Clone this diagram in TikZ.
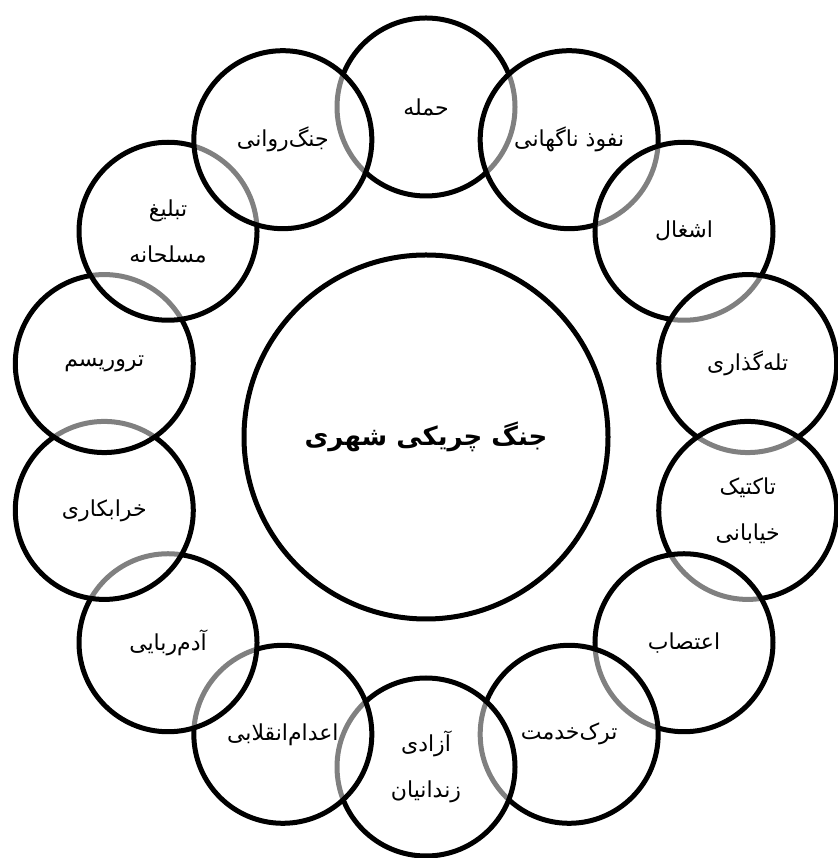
\documentclass[tikz,border=0pt]{standalone}
\usepackage{fontspec}
\TeXXeTstate=1
\newfontfamily\fa[Script=Arabic]{DejaVu Sans}
\newcommand\rl[1]{\beginR#1\endR}
\tikzset{
  petal/.style={circle, draw=black, line width=5pt, fill=white, fill opacity=0.5,
    text opacity=1, minimum size=178pt, inner sep=0pt, align=center,
    font=\fa\fontsize{22}{46}\selectfont},
  hub/.style={circle, draw=black, line width=5pt, fill=white,
    minimum size=364pt, inner sep=0pt, font=\fa\bfseries\fontsize{26}{30}\selectfont}
}
\begin{document}
\begin{tikzpicture}[x=1pt,y=1pt]
\useasboundingbox (0,0) rectangle (837,858);
\coordinate (O) at (426,421);
\node[petal] (p0)  at ([shift={(O)}]90:330)       {\rl{حمله}};
\node[petal] (p1)  at ([shift={(O)}]64.2857:330)  {\rl{نفوذ ناگهانی}};
\node[petal] (p2)  at ([shift={(O)}]38.5714:330)  {\rl{اشغال}};
\node[petal] (p3)  at ([shift={(O)}]12.8571:330)  {\rl{تله‌گذاری}};
\node[petal] (p4)  at ([shift={(O)}]-12.8571:330) {\rl{تاکتیک}\\\rl{خیابانی}};
\node[petal] (p5)  at ([shift={(O)}]-38.5714:330) {\rl{اعتصاب}};
\node[petal] (p6)  at ([shift={(O)}]-64.2857:330) {\rl{ترک‌خدمت}};
\node[petal] (p7)  at ([shift={(O)}]-90:330)      {\rl{آزادی}\\\rl{زندانیان}};
\node[petal] (p8)  at ([shift={(O)}]-115.7143:330) {\rl{اعدام‌انقلابی}};
\node[petal] (p9)  at ([shift={(O)}]-141.4286:330) {\rl{آدم‌ربایی}};
\node[petal] (p10) at ([shift={(O)}]-167.1429:330) {\rl{خرابکاری}};
\node[petal] (p11) at ([shift={(O)}]167.1429:330)  {\rl{تروریسم}};
\node[petal] (p12) at ([shift={(O)}]141.4286:330)  {\rl{تبلیغ}\\\rl{مسلحانه}};
\node[petal] (p13) at ([shift={(O)}]115.7143:330)  {\rl{جنگ‌روانی}};
\node[hub] (hub) at (O) {\rl{جنگ چریکی شهری}};
\end{tikzpicture}
\end{document}
